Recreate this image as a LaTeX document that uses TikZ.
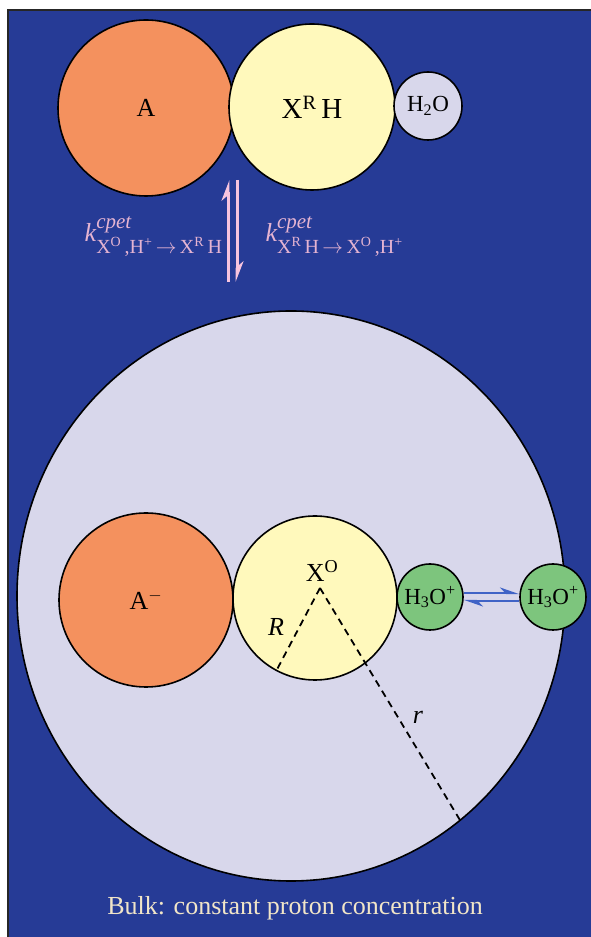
\documentclass[tikz,border=0pt]{standalone}
\usepackage{fontspec,amsmath,xcolor,tikz}
\setmainfont{Liberation Serif}
\usetikzlibrary{arrows.meta,shapes.geometric}
\definecolor{pcblau}{HTML}{263B96}
\definecolor{pcorange}{HTML}{F4915E}
\definecolor{pcgelb}{HTML}{FFF9BC}
\definecolor{pclila}{HTML}{D8D7EB}
\definecolor{pcgruen}{HTML}{7DC57D}
\definecolor{pcrosa}{HTML}{E5B4D2}
\definecolor{pcpfeil}{HTML}{F7C4DE}
\definecolor{pccreme}{HTML}{F1E5C8}
\definecolor{pcpfblau}{HTML}{4063C6}
\newcommand{\pcgross}{\fontsize{26}{30}\selectfont}
\newcommand{\pcmittel}{\fontsize{23}{27}\selectfont}
\newcommand{\pcindex}{\fontsize{20}{22}\selectfont}
\tikzset{
  ball/.style={circle,draw=black,line width=1.6,inner sep=0},
  radius line/.style={black,line width=1.8,dash pattern=on 7 off 5},
  cpet arrow/.style={pcpfeil,line width=3,-{Stealth[harpoon,length=17,width=13]}},
  bulk arrow/.style={pcpfblau,line width=2.2,-{Stealth[harpoon,length=16,width=11]}},
}

\begin{document}
\begin{tikzpicture}[x=1pt,y=1pt]
\useasboundingbox (0,0) rectangle (590,937);
\fill[pcblau] (8,-5) rectangle (596,927);
\draw[black!85,line width=2.4] (8,-5) -- (8,927) -- (596,927);
% bulk
\node[ellipse,draw=black,line width=1.6,fill=pclila,inner sep=0,minimum width=548,minimum height=570] (bulk) at (291,341) {};
% top pair
\node[ball,fill=pcorange,minimum size=176] (nodeA) at (146,829) {\pcgross A};
\node[ball,fill=pcgelb,minimum size=166] (xrh) at (312,830) {\fontsize{29}{33}\selectfont X\textsuperscript{R}\,H};
\node[ball,fill=pclila,minimum size=68] (water) at (428,831) {\pcmittel H\textsubscript{2}O};
% bottom pair
\node[ball,fill=pcorange,minimum size=174] (anion) at (146,337) {\pcgross A\textsuperscript{$-$}};
\node[ball,fill=pcgelb,minimum size=164] (xo) at (315,339) {};
\node[ball,fill=pcgruen,minimum size=66] (hyd1) at (430,340) {\pcmittel H\textsubscript{3}O\textsuperscript{+}};
\node[ball,fill=pcgruen,minimum size=66] (hyd2) at (553,340) {\pcmittel H\textsubscript{3}O\textsuperscript{+}};
% radii
\coordinate (xoc) at (320,349);
\draw[radius line] (xoc) -- (xo.242);
\draw[radius line] (xoc) -- (bulk.307);
\node (xolab) at (322,366) {\pcgross X\textsuperscript{O}};
\node (rlab) at (276,310) {\pcgross\itshape R};
\node (rrlab) at (418,220) {\pcgross\itshape r};
% proton exchange with bulk
\draw[bulk arrow] ([yshift=4]hyd1.east) -- ([yshift=4]hyd2.west);
\draw[bulk arrow] ([yshift=-4]hyd2.west) -- ([yshift=-4]hyd1.east);
% cpet
\coordinate (eqtop) at (232.5,757);
\coordinate (eqbot) at (232.5,655);
\draw[cpet arrow] ([xshift=-4.5]eqbot) -- ([xshift=-4.5]eqtop);
\draw[cpet arrow] ([xshift=4.5]eqtop) -- ([xshift=4.5]eqbot);
\node[anchor=east,text=pcrosa] (kvor) at (226,700) {\fontsize{26}{29}\selectfont $\textit{k}^{\text{\fontsize{21}{23}\selectfont\itshape cpet}}_{\text{\pcindex X\textsuperscript{O}\,,H\textsuperscript{+}\,$\rightarrow$\,X\textsuperscript{R}\,H}}$};
\node[anchor=west,text=pcrosa] (krueck) at (262,700) {\fontsize{26}{29}\selectfont $\textit{k}^{\text{\fontsize{21}{23}\selectfont\itshape cpet}}_{\text{\pcindex X\textsuperscript{R}\,H\,$\rightarrow$\,X\textsuperscript{O}\,,H\textsuperscript{+}}}$};
\node[text=pccreme] (bulklab) at (295,29) {\pcgross Bulk: constant proton concentration};
\end{tikzpicture}
\end{document}
